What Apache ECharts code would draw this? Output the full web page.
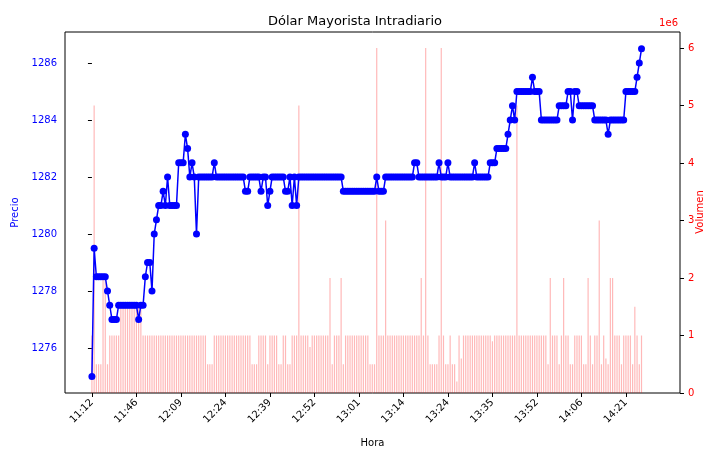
<!DOCTYPE html>
<html><head><meta charset="utf-8">
<script src="https://cdn.jsdelivr.net/npm/echarts@6/dist/echarts.min.js"></script>
<style>html,body{margin:0;padding:0;background:#fff}#c{width:710px;height:452px}</style>
</head><body><div id="c"></div>
<script>
const tickLabels=['11:12','11:46','12:09','12:24','12:39','12:52','13:01','13:14','13:24','13:35','13:52','14:06','14:21'];
const price=[1275,1279.5,1278.5,1278.5,1278.5,1278.5,1278.5,1278,1277.5,1277,1277,1277,
1277.5,1277.5,1277.5,1277.5,1277.5,1277.5,1277.5,1277.5,1277.5,1277,1277.5,1277.5,1278.5,1279,1279,1278,
1280,1280.5,1281,1281,1281.5,1281,1282,1281,1281,1281,1281,1282.5,1282.5,1282.5,1283.5,1283,1282,1282.5,1282,1280,
1282,1282,1282,1282,1282,1282,1282,1282.5,
1282,1282,1282,1282,1282,1282,1282,1282,1282,1282,1282,1282,1282,
1281.5,1281.5,1282,1282,1282,1282,1282,1281.5,1282,1282,1281,1281.5,
1282,1282,1282,1282,1282,1282,1281.5,1281.5,1282,1281,1282,1281,
1282,1282,1282,1282,1282,1282,1282,1282,1282,1282,1282,1282,1282,1282,1282,1282,1282,1282,1282,1282,
1281.5,1281.5,1281.5,1281.5,1281.5,1281.5,1281.5,1281.5,1281.5,1281.5,1281.5,1281.5,1281.5,1281.5,1281.5,
1282,1281.5,1281.5,1281.5,
1282,1282,1282,1282,1282,1282,1282,1282,1282,1282,1282,1282,1282,1282.5,1282.5,
1282,1282,1282,1282,1282,1282,1282,1282,1282,1282.5,1282,1282,1282,1282.5,
1282,1282,1282,1282,1282,1282,1282,1282,1282,1282,1282,1282.5,1282,1282,1282,1282,1282,1282,
1282.5,1282.5,1282.5,1283,1283,1283,1283,1283,1283.5,1284,1284.5,1284,
1285,1285,1285,1285,1285,1285,1285,1285.5,1285,1285,1285,
1284,1284,1284,1284,1284,1284,1284,1284,1284.5,1284.5,1284.5,1284.5,1285,1285,1284,1285,1285,
1284.5,1284.5,1284.5,1284.5,1284.5,1284.5,1284.5,1284,1284,1284,1284,1284,1284,1283.5,
1284,1284,1284,1284,1284,1284,1284,1285,1285,1285,1285,1285,1285.5,1286,1286.5];
const volume=[1,5,0.5,0.5,0.5,2,2,0.5,1,1,1,1,1,1.5,1.5,1.5,1.5,1.5,1.5,1.5,
1.5,1.5,1.5,1,1,1,1,1,1,1,1,1,1,1,1,1,1,1,1,1,
1,1,1,1,1,1,1,1,1,1,1,1,0.5,0.5,0.5,1,1,1,1,1,
1,1,1,1,1,1,1,1,1,1,1,1,0.5,0.5,0.5,1,1,1,1,0.5,
1,1,1,1,0.5,0.5,1,1,0.5,0.5,1,1,1,5,1,1,1,1,0.8,1,
1,1,1,1,1,1,1,2,0.5,1,1,1,2,0.5,1,1,1,1,1,1,
1,1,1,1,1,0.5,0.5,0.5,6,1,1,1,3,1,1,1,1,1,1,1,
1,1,1,1,1,1,1,1,2,1,6,1,0.5,0.5,0.5,0.5,1,6,1,0.5,
0.5,1,0.5,0.5,0.2,1,0.6,1,1,1,1,1,1,1,1,1,1,1,1,1,
0.9,1,1,1,1,1,1,1,1,1,1,5,1,1,1,1,1,1,1,1,
1,1,1,1,1,0.5,2,1,1,1,0.5,1,2,1,1,0.5,0.5,1,1,1,
1,0.5,0.5,2,1,0.5,1,1,3,0.5,1,0.6,0.5,2,2,1,1,1,0.5,1,
1,1,1,0.5,1.5,1,0.5,1];
const n=Math.min(price.length,volume.length);
const pData=[],vData=[];
for(let i=0;i<n;i++){pData.push([i,price[i]]);vData.push([i,volume[i]]);}
const tickVals=tickLabels.map((_,i)=>i*20);
const chart=echarts.init(document.getElementById('c'),null,{renderer:'canvas'});
const F='DejaVu Sans';
chart.setOption({
 animation:false,
 title:{text:'Dólar Mayorista Intradiario',left:'center',top:10,textStyle:{fontFamily:F,fontSize:13,fontWeight:'normal',color:'#000'}},
 grid:{left:65,right:30,top:32,bottom:59,show:true,borderColor:'#000',borderWidth:1,outerBoundsMode:'none',containLabel:false},
 xAxis:{type:'value',min:-12.1,max:264.3,name:'Hora',nameLocation:'middle',nameGap:45,
  nameTextStyle:{fontFamily:F,fontSize:10,color:'#000'},
  axisLine:{show:false},splitLine:{show:false},
  axisTick:{show:true,customValues:tickVals,lineStyle:{color:'#000'},length:4},
  axisLabel:{customValues:tickVals,rotate:45,fontFamily:F,fontSize:10,color:'#000',
   formatter:v=>tickLabels[Math.round(v/20)]||''}},
 yAxis:[{type:'value',min:1274.42,max:1287.09,name:'Precio',nameLocation:'middle',nameGap:37,
  nameTextStyle:{fontFamily:F,fontSize:10,color:'#0000ff'},
  axisLine:{show:false},splitLine:{show:false},
  axisTick:{show:true,customValues:[1276,1278,1280,1282,1284,1286],length:4,lineStyle:{color:'#000'}},
  axisLabel:{customValues:[1276,1278,1280,1282,1284,1286],fontFamily:F,fontSize:10,color:'#0000ff',formatter:v=>String(Math.round(v))}},
 {type:'value',min:0,max:6.28,position:'right',
  axisLine:{show:false},splitLine:{show:false},
  axisTick:{show:true,customValues:[0,1,2,3,4,5,6],length:4,lineStyle:{color:'#000'}},
  axisLabel:{customValues:[0,1,2,3,4,5,6],fontFamily:F,fontSize:10,color:'#ff0000',formatter:v=>String(Math.round(v))}}],
 graphic:[{type:'text',right:32,top:18,style:{text:'1e6',fill:'#ff0000',font:'10px DejaVu Sans'}},
  {type:'text',x:700,y:212,rotation:Math.PI/2,style:{text:'Volumen',fill:'#ff0000',font:'10px DejaVu Sans',align:'center',verticalAlign:'middle'}}],
 series:[
  {type:'bar',yAxisIndex:1,data:vData,barWidth:1.2,itemStyle:{color:'rgba(255,0,0,0.28)'},z:1},
  {type:'line',yAxisIndex:0,data:pData,symbol:'circle',symbolSize:7,lineStyle:{color:'#0000ff',width:1.5},itemStyle:{color:'#0000ff'},z:3}
 ]
});
</script></body></html>
